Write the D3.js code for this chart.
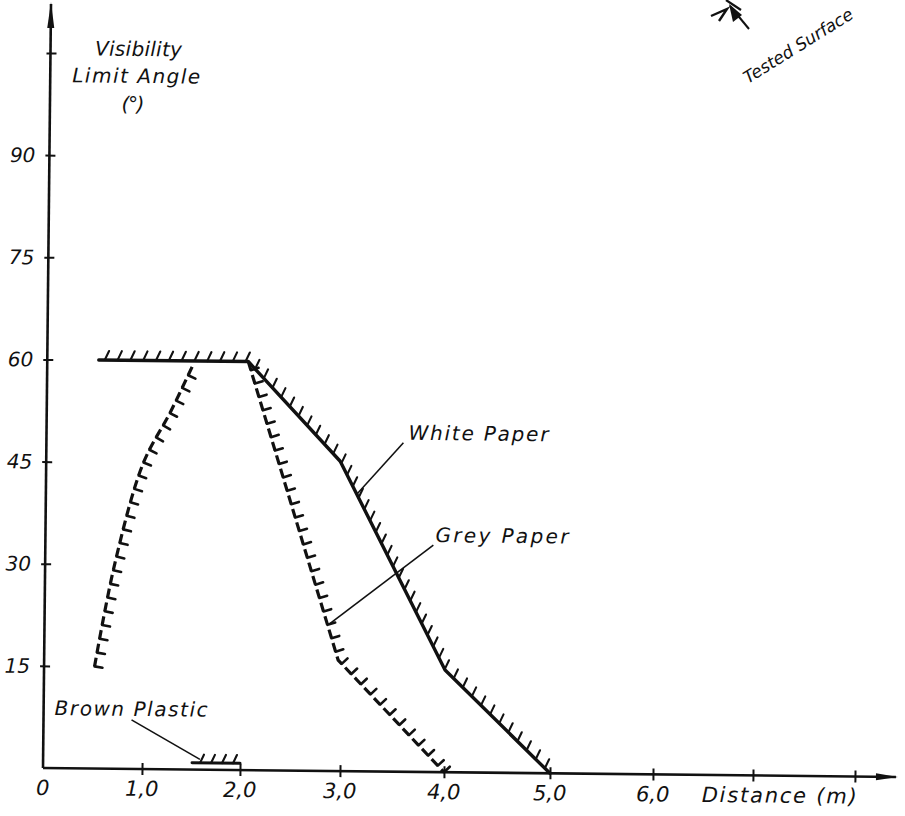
<!DOCTYPE html>
<html>
<head>
<meta charset="utf-8">
<script src="https://cdn.jsdelivr.net/npm/d3@7"></script>
<style>
  body { margin: 0; background: #fff; }
  text { font-family: "DejaVu Sans", sans-serif; font-style: italic; fill: #111; }
</style>
</head>
<body>
<div id="chart"></div>
<script>
// ---- data ----
const xTicks = [0, 1, 2, 3, 4, 5, 6, 7, 8];
const xTickLabels = ["0", "1,0", "2,0", "3,0", "4,0", "5,0", "6,0"];
const yTicks = [15, 30, 45, 60, 75, 90, 105];
const yTickLabels = ["15", "30", "45", "60", "75", "90"];

// [distance (m), angle (deg)]
const whitePaper = [[0.52, 60], [2.04, 60], [2.97, 45.5], [4.0, 15], [5.0, 0]];
const greyLeft = [[0.51, 15], [0.705, 30.2], [0.98, 44.9], [1.25, 52.4], [1.48, 59.5]];
const greyRight = [[2.04, 60], [2.97, 16.3], [4.0, 0]];
const brownPlastic = [[1.51, 1], [2.0, 1]];

const noteLabels = ["White Paper", "Grey Paper", "Brown Plastic"];
const noteTargets = [[3.14, 40.8], [2.88, 21.6], [1.59, 1.5]];

// ---- layout ----
const width = 905, height = 816;
const tilt = 0.6;  // the scan is slightly rotated
const ink = "#111";
// hand drawn tick spacing is not quite even
const xTickPx = [43, 142, 240, 340, 444, 550, 653, 753, 855];
const notePos = [
  { x: 405, y: 436, w: 140, lx: 400, ly: 439 },
  { x: 433, y: 538, w: 133, lx: 431, ly: 541 },
  { x: 54, y: 715, w: 153, lx: 131, ly: 719 }
];

const x = d3.scaleLinear().domain(xTicks).range(xTickPx);
const y = d3.scaleLinear().domain([0, 105]).range([768, 768 - 105 * 6.81]);

const svg = d3.select("#chart")
  .append("svg")
    .attr("width", width)
    .attr("height", height);

const g = svg.append("g")
  .attr("transform", `rotate(${tilt},${x(0)},${y(0)})`);

// ---- axes ----
g.append("line")
  .attr("x1", x(0)).attr("y1", y(0))
  .attr("x2", x(0)).attr("y2", 4)
  .attr("stroke", ink).attr("stroke-width", 2.6);
g.append("path")
  .attr("d", `M${x(0)},2 L${x(0) - 3.5},28 L${x(0) + 3.5},28 Z`)
  .attr("fill", ink);

g.append("line")
  .attr("x1", x(0)).attr("y1", y(0))
  .attr("x2", 896).attr("y2", y(0))
  .attr("stroke", ink).attr("stroke-width", 2.6);
g.append("path")
  .attr("d", `M898,${y(0)} L876,${y(0) - 3.5} L876,${y(0) + 3.5} Z`)
  .attr("fill", ink);

const xAxis = g.append("g")
  .attr("transform", `translate(0,${y(0)})`)
  .call(d3.axisBottom(x).tickValues(xTicks.slice(1)).tickFormat("").tickSize(5));
xAxis.select(".domain").remove();
xAxis.selectAll(".tick line")
  .attr("y1", -6).attr("y2", 6)
  .attr("stroke", ink).attr("stroke-width", 2);

const yAxis = g.append("g")
  .attr("transform", `translate(${x(0)},0)`)
  .call(d3.axisLeft(y).tickValues(yTicks).tickFormat("").tickSize(5));
yAxis.select(".domain").remove();
yAxis.selectAll(".tick line")
  .attr("x1", -4).attr("x2", 6)
  .attr("stroke", ink).attr("stroke-width", 2);

g.selectAll(".xlab")
  .data(xTickLabels)
  .join("text")
    .attr("class", "xlab")
    .attr("x", (d, i) => x(i))
    .attr("y", 795)
    .attr("text-anchor", "middle")
    .style("font-size", "21px")
    .text(d => d);

g.selectAll(".ylab")
  .data(yTickLabels)
  .join("text")
    .attr("class", "ylab")
    .attr("x", 29)
    .attr("y", (d, i) => y(yTicks[i]))
    .attr("dy", "0.36em")
    .attr("text-anchor", "end")
    .style("font-size", "20px")
    .text(d => d);

g.append("text")
  .attr("x", 702).attr("y", 795)
  .attr("textLength", 155).attr("lengthAdjust", "spacing")
  .style("font-size", "21px")
  .text("Distance (m)");

const yTitle = [["Visibility", 131, 55, 87], ["Limit Angle", 129, 82, 128], ["(°)", 126, 110, 23]];
g.selectAll(".ytitle")
  .data(yTitle)
  .join("text")
    .attr("class", "ytitle")
    .attr("x", d => d[1] - d[3] / 2)
    .attr("y", d => d[2])
    .attr("textLength", d => d[3])
    .attr("lengthAdjust", "spacing")
    .style("font-size", "20px")
    .text(d => d[0]);

// ---- curves ----
const line = d3.line().x(d => x(d[0])).y(d => y(d[1]));
const smooth = d3.line().x(d => x(d[0])).y(d => y(d[1])).curve(d3.curveCatmullRom);

// solid limit line with slanted hatches in one fixed direction
function drawSolid(data, opts) {
  const p = g.append("path")
    .datum(data)
    .attr("d", line)
    .attr("fill", "none")
    .attr("stroke", ink)
    .attr("stroke-width", opts.width)
    .attr("stroke-linejoin", "round")
    .attr("stroke-linecap", "round");
  const node = p.node(), len = node.getTotalLength();
  const segs = [];
  for (let s = opts.offset; s < len - 2; s += opts.step) {
    const pt = node.getPointAtLength(s);
    segs.push([pt.x, pt.y, pt.x + opts.dir[0] * opts.len, pt.y + opts.dir[1] * opts.len]);
  }
  g.append("g").selectAll("line")
    .data(segs)
    .join("line")
      .attr("x1", d => d[0]).attr("y1", d => d[1])
      .attr("x2", d => d[2]).attr("y2", d => d[3])
      .attr("stroke", ink).attr("stroke-width", 2.1)
      .attr("stroke-linecap", "round");
}

// broken limit line drawn as a row of "L" marks
function drawDashed(data, gen, opts) {
  const p = g.append("path")
    .datum(data)
    .attr("d", gen)
    .attr("fill", "none")
    .attr("stroke", ink)
    .attr("stroke-width", 3.2)
    .attr("stroke-dasharray", `${opts.dash},${opts.gap}`);
  const node = p.node(), len = node.getTotalLength();
  const segs = [];
  for (let s = 0; s < len - 2; s += opts.dash + opts.gap) {
    const at = opts.atEnd ? Math.min(s + opts.dash, len) : s;
    const a = node.getPointAtLength(Math.max(0, at - 1.5));
    const b = node.getPointAtLength(Math.min(len, at + 1.5));
    let dx = b.x - a.x, dy = b.y - a.y;
    const n = Math.hypot(dx, dy) || 1;
    dx /= n; dy /= n;
    const nx = dy * opts.side, ny = -dx * opts.side;
    const pt = node.getPointAtLength(at);
    segs.push([pt.x, pt.y, pt.x + nx * opts.len, pt.y + ny * opts.len]);
  }
  g.append("g").selectAll("line")
    .data(segs)
    .join("line")
      .attr("x1", d => d[0]).attr("y1", d => d[1])
      .attr("x2", d => d[2]).attr("y2", d => d[3])
      .attr("stroke", ink).attr("stroke-width", 2.6)
      .attr("stroke-linecap", "round");
}

const hatchDir = [Math.cos(65 * Math.PI / 180), -Math.sin(65 * Math.PI / 180)];

drawDashed(greyLeft, smooth, { dash: 9, gap: 5, len: 8, side: -1, atEnd: false });
drawDashed(greyRight, line, { dash: 9, gap: 5, len: 8, side: 1, atEnd: true });
drawSolid(whitePaper, { width: 3.4, step: 12.8, offset: 6, len: 10, dir: hatchDir });
drawSolid(brownPlastic, { width: 3, step: 11, offset: 8, len: 9, dir: hatchDir });

// ---- annotations ----
noteLabels.forEach((label, i) => {
  const pos = notePos[i], t = noteTargets[i];
  g.append("line")
    .attr("x1", pos.lx).attr("y1", pos.ly)
    .attr("x2", x(t[0])).attr("y2", y(t[1]))
    .attr("stroke", ink).attr("stroke-width", 1.6);
  g.append("text")
    .attr("x", pos.x).attr("y", pos.y)
    .attr("textLength", pos.w).attr("lengthAdjust", "spacing")
    .style("font-size", "20px")
    .text(label);
});

// ---- tested surface sketch (top right corner) ----
const corner = svg.append("g");
corner.append("path")
  .attr("d", "M711,16 L727,9 L719,21")
  .attr("fill", "none").attr("stroke", ink).attr("stroke-width", 2.4);
corner.append("line")
  .attr("x1", 726).attr("y1", 0).attr("x2", 741).attr("y2", 10)
  .attr("stroke", ink).attr("stroke-width", 2.2);
corner.append("line")
  .attr("x1", 730).attr("y1", 6).attr("x2", 749).attr("y2", 29)
  .attr("stroke", ink).attr("stroke-width", 2);
corner.append("path")
  .attr("d", "M729,4 L733,22 L742,15 Z")
  .attr("fill", ink);
corner.append("text")
  .attr("transform", "translate(748,84) rotate(-32)")
  .style("font-size", "17px")
  .text("Tested Surface");
</script>
</body>
</html>
